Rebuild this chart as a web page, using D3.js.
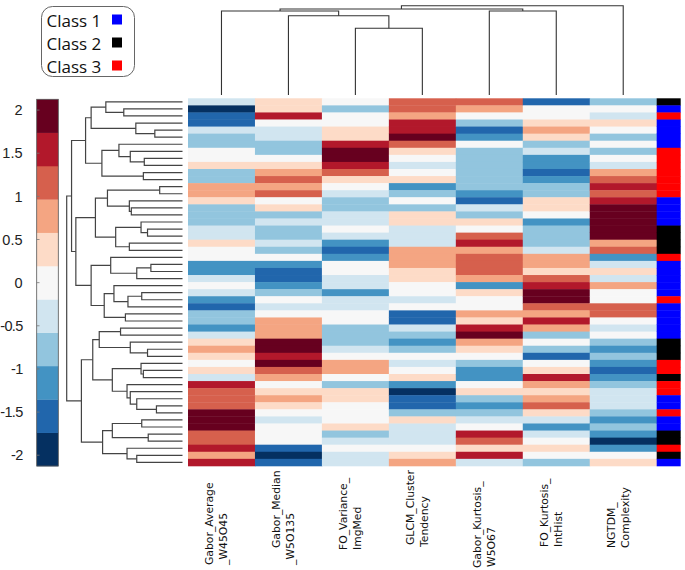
<!DOCTYPE html>
<html><head><meta charset="utf-8">
<script src="https://cdn.jsdelivr.net/npm/d3@7"></script>
<style>body{margin:0;background:#fff}</style>
</head><body><svg id="c" width="685" height="570"></svg>
<script>
// ---- data ----
const features = [["Gabor_Average","_W45O45"],["Gabor_Median","_W5O135"],["FO_Variance_","ImgMed"],["GLCM_Cluster","Tendency"],["Gabor_Kurtosis_","W5O67"],["FO_Kurtosis_","IntHist"],["NGTDM_","Complexity"]];
const gaborAverage = [-0.4,-1.9,-1.5,-1.5,-0.4,-0.8,-0.8,0,0,0.4,
  -0.8,-0.8,0.8,0.8,0.4,-0.8,-0.8,-0.8,-0.4,-0.4,
  0.4,0,0,-1.1,-1.1,-0.4,0,-0.4,-1.1,-1.5,
  -0.8,-0.8,-1.1,-0.4,0.4,0.8,0.4,0,0.4,-0.4,
  1.5,1.2,1.2,1.2,1.9,1.9,1.9,1.2,1.2,1.5,
  0.8,1.5];
const gaborMedian = [0.4,0.4,1.5,0,-0.4,-0.4,-0.8,-0.8,0,0.4,
  0.8,1.2,0.8,1.2,0,0.4,-0.8,-0.4,-0.8,-0.8,
  -0.4,-0.8,0,-1.1,-1.5,-1.5,-1.1,-0.8,0,-0.4,
  0,0.8,0.8,0.8,1.9,1.9,1.5,1.9,1.2,0.8,
  0,0.4,0.8,0.4,0,-0.4,0,0,0,-1.5,
  -1.9,-1.5];
const foVariance = [0,-0.8,0,0,0.4,0.4,1.5,1.9,1.9,1.5,
  1.2,0.4,0,-0.4,-0.8,-0.8,-0.4,-0.4,0,-0.4,
  -1.1,-1.5,-1.1,0,0,-0.4,-0.4,-1.1,-0.4,-0.4,
  0,0,-0.8,-0.8,-0.8,-0.4,0,0.8,0.8,0,
  -0.8,0.4,0.4,0,0,0,0.4,-0.8,-0.4,0,
  -0.4,-0.4];
const glcmCluster = [1.2,1.2,0.8,1.5,1.5,1.9,1.2,0.4,0,-0.4,
  0,0.4,-1.1,-0.8,0,-0.8,0.4,0.4,-0.4,-0.4,
  -0.4,0.8,0.8,0.8,0.4,0.4,0,0,-0.4,0,
  -1.5,-1.5,-0.4,-0.8,-1.1,-0.8,0,-0.4,0,0.4,
  -1.1,-1.9,-1.5,-1.5,-0.8,0.4,-0.4,-0.4,-0.4,0,
  0.4,0.8];
const gaborKurtosis = [1.2,0.8,0,-0.8,-1.5,-1.1,0,-0.8,-0.8,-0.8,
  -0.8,-0.8,-0.8,-1.1,-1.5,-0.4,-0.8,0.4,0,1.2,
  1.5,0.8,1.2,1.2,1.2,0.8,-1.1,0.4,0,0,
  0.8,0.4,1.5,1.9,0.8,0.4,0,-0.8,-1.1,-1.1,
  0,0.4,-0.8,-1.1,-0.8,-0.4,0,1.5,1.2,0.4,
  1.5,-0.4];
const foKurtosis = [-1.5,0,0,0.4,0.8,0.4,-0.8,-0.4,-1.1,-1.1,
  -1.5,-1.1,-0.8,-0.8,0.4,0.4,0,-1.1,-0.8,-0.8,
  -0.8,-0.4,0.8,0.8,0.4,1.2,1.5,1.9,1.9,1.2,
  0.8,1.5,0.8,-0.8,0,-0.8,-1.5,0,0.4,1.5,
  0.8,0.4,0.8,1.2,0.4,-0.4,-1.1,-0.4,0,0.4,
  0,-0.8];
const ngtdmComplexity = [-0.8,0,-0.4,0.4,0,-0.8,0,-0.8,0,-0.4,
  0.8,1.2,1.5,1.2,1.5,1.9,1.9,1.9,1.9,1.9,
  0.8,1.2,-1.1,-0.4,0.4,-0.4,0.8,0,0,1.2,
  1.2,0,-0.4,0,-0.8,-1.1,-0.8,-1.1,-1.5,-1.1,
  -0.8,-0.4,-0.4,-0.4,-0.8,-1.1,-0.8,-1.1,-1.9,-1.1,
  0,0.4];
const classes = [2,1,3,1,1,1,1,3,3,3, 3,3,3,3,1,1,1,1,2,2, 2,2,3,1,1,1,1,1,3,1,
  1,1,1,1,2,2,2,3,3,2, 3,3,1,1,3,1,1,2,2,3, 2,1];
const classNames = ["Class 1","Class 2","Class 3"];
const classColors = ["#0000ff","#000000","#ff0000"];
const colorTicks = [2,1.5,1,0.5,0,-0.5,-1,-1.5,-2];
const palette = ["#053061","#2166ac","#4393c3","#92c5de","#d1e5f0","#f7f7f7","#fddbc7","#f4a582","#d6604d","#b2182b","#67001f"];
// dendrograms: [height, left, right]; leaves are row / column indices
const rowTree = [10,
  [9.58,
    [8.37,
      [7.89, [6.62, 0, [5.07, 1, 2]], [4.03, 3, [2.39, 4, 5]]],
      [6.96, [5.49, 6, [4.51, 7, [3.30, 8, 9]]], [3.38, 10, 11]]],
    [9.21,
      [7.52,
        [6.48, [1.97, 12, 13], [4.59, 14, [4.42, 15, 16]]],
        [5.77, [3.58, 17, [3.02, 18, 19]], [4.59, 20, 21]]],
      [7.89,
        [6.2, 22, [3.95, [2.73, 23, 24], 25]],
        [6.76, [5.92, 26, [4.71, [3.52, 27, 28], 29]], [4.93, 30, 31]]]]],
  [8.73,
    [7.75,
      [7.19, [5.35, 32, 33], [4.51, 34, [3.02, 35, 36]]],
      [6.06, [3.58, 37, [3.38, 38, 39]], [4.79, 40, [4.51, 41, [3.95, 42, [2.25, 43, 44]]]]]],
    [6.9,
      [6.06, [3.52, 45, 46], [2.96, 47, 48]],
      [4.79, 49, [3.95, 50, 51]]]]];
const colTree = [10, [9.63, [9.4, 0, [8.88, 1, [7.47, 2, 3]]], [9.4, 4, 5]], 6];

// ---- drawing ----
const columns = [gaborAverage, gaborMedian, foVariance, glcmCluster, gaborKurtosis, foKurtosis, ngtdmComplexity];
const nRows = gaborAverage.length;
const svg = d3.select("#c");
svg.append("rect").attr("width",685).attr("height",570).attr("fill","#fff");

const x = d3.scaleBand().domain(d3.range(columns.length)).range([188, 656.7]);
const y = d3.scaleBand().domain(d3.range(nRows)).range([98.3, 465.9]);
const color = d3.scaleQuantize().domain([-2.125, 2.125]).range(palette);

// heatmap
columns.forEach((col, c) => {
  svg.append("g").selectAll("rect").data(col).join("rect")
    .attr("x", x(c)).attr("y", (d,i) => y(i))
    .attr("width", x.bandwidth()+0.4).attr("height", y.bandwidth()+0.4)
    .attr("fill", d => color(d));
});
// class bar
svg.append("g").selectAll("rect").data(classes).join("rect")
  .attr("x", 656.7).attr("y", (d,i) => y(i))
  .attr("width", 24).attr("height", y.bandwidth()+0.4)
  .attr("fill", d => classColors[d-1]);

// row dendrogram
const hx = d3.scaleLinear().domain([0,10]).range([182.5, 66.7]);
const rowG = svg.append("g").attr("fill","none").attr("stroke","#444").attr("stroke-width",1.2);
function drawRow(node){
  if (typeof node === "number") return {pos: y(node)+y.bandwidth()/2, h: 0};
  const a = drawRow(node[1]), b = drawRow(node[2]), h = node[0];
  rowG.append("path").attr("d", `M${hx(a.h)},${a.pos}H${hx(h)}V${b.pos}H${hx(b.h)}`);
  return {pos: (a.pos+b.pos)/2, h};
}
drawRow(rowTree);

// column dendrogram
const hy = d3.scaleLinear().domain([0,10]).range([95, 5.7]);
const colG = svg.append("g").attr("fill","none").attr("stroke","#333").attr("stroke-width",1.1);
function drawCol(node){
  if (typeof node === "number") return {pos: x(node)+x.bandwidth()/2, h: 0};
  const a = drawCol(node[1]), b = drawCol(node[2]), h = node[0];
  colG.append("path").attr("d", `M${a.pos},${hy(a.h)}V${hy(h)}H${b.pos}V${hy(b.h)}`);
  return {pos: (a.pos+b.pos)/2, h};
}
drawCol(colTree);

// column labels
const labelBottom = [[565,565],[548,565],[550,550],[545,547],[568,567],[547,547],[548,548]];
const lab = svg.append("g").attr("font-family","DejaVu Sans, sans-serif").attr("font-size","10.8px").attr("fill","#111");
features.forEach((f, c) => {
  const cx = x(c) + x.bandwidth()/2;
  [[f[0], cx-8.7], [f[1], cx+5.6]].forEach(([t, bx], k) => {
    const by = labelBottom[c][k];
    lab.append("text").attr("transform", `translate(${bx},${by}) rotate(-90)`).attr("text-anchor","start").text(t);
  });
});

// colorbar
const cbY = d3.scaleLinear().domain([-2.125, 2.125]).range([466, 99.3]);
const cb = svg.append("g");
palette.forEach(p => {
  const [lo, hi] = color.invertExtent(p);
  cb.append("rect").attr("x",36.7).attr("width",21.6).attr("y",cbY(hi)).attr("height",cbY(lo)-cbY(hi)+0.3).attr("fill",p);
});
cb.append("rect").attr("x",36.7).attr("y",99.3).attr("width",21.6).attr("height",466-99.3).attr("fill","none").attr("stroke","#555").attr("stroke-width",0.8);
const axis = d3.axisLeft(cbY).tickValues(colorTicks).tickSize(0).tickPadding(14.2).tickFormat(d => d < 0 ? "-" + Math.abs(d) : String(d));
const ax = cb.append("g").attr("transform","translate(36.7,0)").call(axis);
ax.select(".domain").remove();
ax.selectAll("text").attr("font-family","Liberation Sans, Arial, sans-serif").attr("font-size","14.5px").attr("fill","#222")
  .attr("letter-spacing", d => d < 0 ? "-0.7px" : null);
cb.selectAll("line.tk").data(colorTicks).join("line").attr("class","tk")
  .attr("x1",36.7).attr("x2",39.5).attr("y1",d=>cbY(d)).attr("y2",d=>cbY(d)).attr("stroke","#777").attr("stroke-width",0.8);

// legend
const lg = svg.append("g");
lg.append("rect").attr("x",41.5).attr("y",6.5).attr("width",93).attr("height",70).attr("rx",11).attr("fill","#fff").attr("stroke","#666").attr("stroke-width",1);
classNames.forEach((n,i) => {
  lg.append("text").attr("x",46.5).attr("y",26.5+i*23).attr("font-family","Open Sans, sans-serif").attr("font-size","17px").attr("fill","#111").text(n);
  lg.append("rect").attr("x",112).attr("y",14.5+i*23).attr("width",10).attr("height",10).attr("fill",classColors[i]);
});
</script></body></html>
